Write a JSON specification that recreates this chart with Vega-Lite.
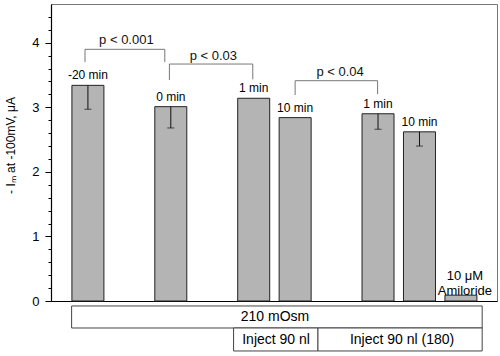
{
  "$schema": "https://vega.github.io/schema/vega-lite/v6.json",
  "width": 446,
  "height": 297,
  "autosize": {"type": "none"},
  "padding": {"left": 51, "top": 4, "right": 3, "bottom": 55},
  "config": {"font": "Liberation Sans", "view": {"stroke": "#777", "strokeWidth": 1}},
  "datasets": {
    "bars": [
      {"x": 0, "y": 3.34, "low": 2.97, "label": "-20 min"},
      {"x": 2, "y": 3.01, "low": 2.68, "label": "0 min"},
      {"x": 4, "y": 3.14, "low": null, "label": "1 min"},
      {"x": 5, "y": 2.84, "low": null, "label": "10 min"},
      {"x": 7, "y": 2.90, "low": 2.66, "label": "1 min"},
      {"x": 8, "y": 2.62, "low": 2.40, "label": "10 min"},
      {"x": 9, "y": 0.09, "low": null, "label": "10 μM\nAmiloride"}
    ],
    "brackets": [
      {"x": -0.07, "x2": 1.855, "y": 3.898, "y2": 3.898},
      {"x": -0.07, "x2": -0.07, "y": 3.898, "y2": 3.70},
      {"x": 1.855, "x2": 1.855, "y": 3.898, "y2": 3.70},
      {"x": 1.966, "x2": 3.978, "y": 3.67, "y2": 3.67},
      {"x": 1.966, "x2": 1.966, "y": 3.67, "y2": 3.423},
      {"x": 3.978, "x2": 3.978, "y": 3.67, "y2": 3.433},
      {"x": 5.0, "x2": 6.99, "y": 3.412, "y2": 3.412},
      {"x": 5.0, "x2": 5.0, "y": 3.412, "y2": 3.19},
      {"x": 6.99, "x2": 6.99, "y": 3.412, "y2": 3.206}
    ],
    "pLabels": [
      {"x": 0.928, "y": 4.042, "text": "p < 0.001"},
      {"x": 3.027, "y": 3.79, "text": "p < 0.03"},
      {"x": 6.086, "y": 3.547, "text": "p < 0.04"}
    ],
    "boxes": [
      {"x": -0.393, "x2": 9.513, "y": -0.077, "y2": -0.418},
      {"x": 3.515, "x2": 5.551, "y": -0.418, "y2": -0.774},
      {"x": 5.551, "x2": 9.513, "y": -0.418, "y2": -0.774}
    ],
    "boxLabels": [
      {"x": 4.513, "y": -0.248, "text": "210 mOsm", "weight": "bold"},
      {"x": 4.54, "y": -0.6, "text": "Inject 90 nl", "weight": "normal"},
      {"x": 7.579, "y": -0.6, "text": "Inject 90 nl (180)", "weight": "bold"}
    ]
  },
  "encoding": {
    "x": {"field": "x", "type": "quantitative",
          "scale": {"domain": [-0.77, 9.75], "nice": false, "zero": false},
          "axis": {"labels": false, "ticks": false, "grid": false, "title": null, "domainColor": "#000", "domainWidth": 1.2}},
    "y": {"field": "y", "type": "quantitative",
          "scale": {"domain": [0, 4.6], "nice": false},
          "axis": {
            "values": [0, 0.2, 0.4, 0.6, 0.8, 1, 1.2, 1.4, 1.6, 1.8, 2, 2.2, 2.4, 2.6, 2.8, 3, 3.2, 3.4, 3.6, 3.8, 4, 4.2, 4.4],
            "labelExpr": "abs(datum.value - round(datum.value)) < 0.01 ? format(datum.value, 'd') : ''",
            "labelOverlap": false, "labelFlush": false,
            "tickSize": {"condition": {"test": "abs(datum.value - round(datum.value)) < 0.01", "value": 6}, "value": 3},
            "tickColor": "#000", "domainColor": "#000", "domainWidth": 1.2,
            "labelFontSize": 13, "labelColor": "#000", "labelPadding": 6,
            "grid": false,
            "title": "- Iₘ at -100mV, μA", "titleFontSize": 12, "titleFontWeight": "normal", "titleColor": "#000",
            "titleX": -41, "titleY": 141, "titleBaseline": "middle", "titleAlign": "center", "titleAngle": -90
          }}
  },
  "layer": [
    {
      "data": {"name": "bars"},
      "mark": {"type": "bar", "width": 32, "fill": "#b4b4b4", "stroke": "#222", "strokeWidth": 1}
    },
    {
      "data": {"name": "bars"},
      "transform": [{"filter": "datum.low != null"}],
      "mark": {"type": "rule", "color": "#111", "strokeWidth": 1},
      "encoding": {"y2": {"field": "low"}}
    },
    {
      "data": {"name": "bars"},
      "transform": [{"filter": "datum.low != null"}],
      "mark": {"type": "tick", "orient": "horizontal", "size": 7, "thickness": 1, "color": "#111"},
      "encoding": {
        "y": {"field": "low", "type": "quantitative",
          "scale": {"domain": [0, 4.6], "nice": false},
          "axis": {
            "values": [0, 0.2, 0.4, 0.6, 0.8, 1, 1.2, 1.4, 1.6, 1.8, 2, 2.2, 2.4, 2.6, 2.8, 3, 3.2, 3.4, 3.6, 3.8, 4, 4.2, 4.4],
            "labelExpr": "abs(datum.value - round(datum.value)) < 0.01 ? format(datum.value, 'd') : ''",
            "labelOverlap": false, "labelFlush": false,
            "tickSize": {"condition": {"test": "abs(datum.value - round(datum.value)) < 0.01", "value": 6}, "value": 3},
            "tickColor": "#000", "domainColor": "#000", "domainWidth": 1.2,
            "labelFontSize": 13, "labelColor": "#000", "labelPadding": 6,
            "grid": false,
            "title": "- Iₘ at -100mV, μA", "titleFontSize": 12, "titleFontWeight": "normal", "titleColor": "#000",
            "titleX": -41, "titleY": 141, "titleBaseline": "middle", "titleAlign": "center", "titleAngle": -90
          }}
      }
    },
    {
      "data": {"name": "bars"},
      "transform": [{"filter": "datum.x < 9"}],
      "mark": {"type": "text", "fontSize": 12, "baseline": "middle", "dy": -10, "color": "#000"},
      "encoding": {"text": {"field": "label"}}
    },
    {
      "data": {"name": "bars"},
      "transform": [{"filter": "datum.x == 9"}],
      "mark": {"type": "text", "fontSize": 13, "baseline": "bottom", "dy": -12, "dx": 4, "lineBreak": "\n", "lineHeight": 15, "color": "#000"},
      "encoding": {"text": {"field": "label"}}
    },
    {
      "data": {"name": "brackets"},
      "mark": {"type": "rule", "color": "#777", "strokeWidth": 1},
      "encoding": {"x2": {"field": "x2"}, "y2": {"field": "y2"}}
    },
    {
      "data": {"name": "pLabels"},
      "mark": {"type": "text", "fontSize": 13, "baseline": "middle", "color": "#111"},
      "encoding": {"text": {"field": "text"}}
    },
    {
      "data": {"name": "boxes"},
      "mark": {"type": "rect", "fill": "#fff", "stroke": "#444", "strokeWidth": 1},
      "encoding": {"x2": {"field": "x2"}, "y2": {"field": "y2"}}
    },
    {
      "data": {"name": "boxLabels"},
      "mark": {"type": "text", "fontSize": 14, "baseline": "middle", "color": "#000"},
      "encoding": {
        "text": {"field": "text"},
        "fontWeight": {"field": "weight", "type": "nominal", "scale": null}
      }
    }
  ]
}
